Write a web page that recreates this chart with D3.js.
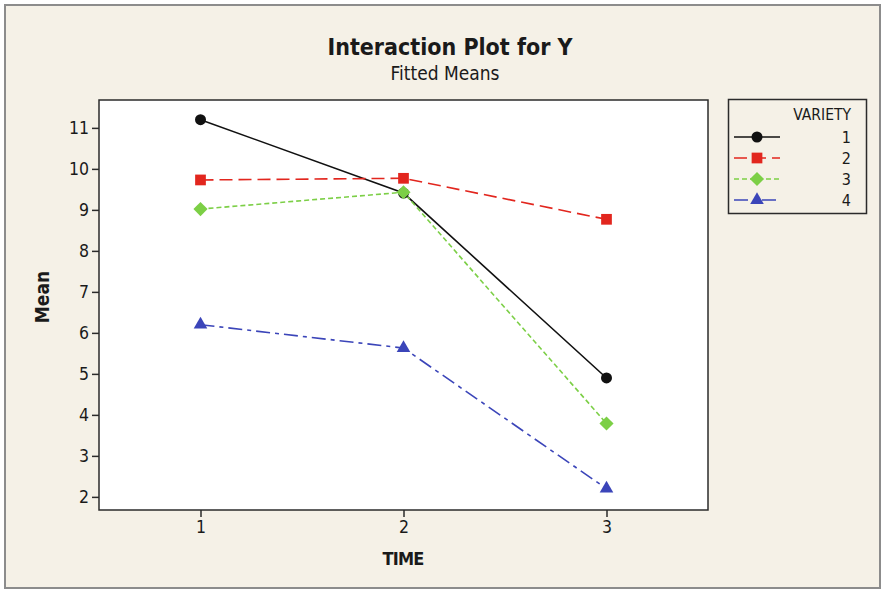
<!DOCTYPE html>
<html>
<head>
<meta charset="utf-8">
<script src="https://cdn.jsdelivr.net/npm/d3@7"></script>
<style>
  html, body { margin: 0; padding: 0; background: #ffffff; }
  svg { display: block; }
  text { font-family: "DejaVu Sans Condensed", "DejaVu Sans", sans-serif; fill: #1a1a1a; }
</style>
</head>
<body>
<script>
// Fitted means of Y by TIME for each VARIETY
const times = [1, 2, 3];
const varieties = ["1", "2", "3", "4"];
const variety1 = [11.2, 9.41, 4.9];
const variety2 = [9.73, 9.77, 8.77];
const variety3 = [9.02, 9.43, 3.79];
const variety4 = [6.2, 5.63, 2.2];
const yTicks = [2, 3, 4, 5, 6, 7, 8, 9, 10, 11];

const seriesValues = [variety1, variety2, variety3, variety4];
const colors = ["#111111", "#e2261e", "#7ccf46", "#3b45b9"];
const dashes = [null, "13,6", "5,3", "14,5,4,5"];

// square diamond (equal width and height)
const symbolSquareDiamond = {
  draw(context, size) {
    const r = Math.sqrt(size / 2);
    context.moveTo(0, -r);
    context.lineTo(r, 0);
    context.lineTo(0, r);
    context.lineTo(-r, 0);
    context.closePath();
  }
};
const symbols = [d3.symbolCircle, d3.symbolSquare, symbolSquareDiamond, d3.symbolTriangle];
const symbolSizes = [95, 115, 100, 80];

const W = 882, H = 591;
const plot = { left: 99, top: 100, right: 708, bottom: 510 };

const svg = d3.select("body").append("svg").attr("width", W).attr("height", H);

// outer panel
svg.append("rect").attr("x", 0).attr("y", 0).attr("width", W).attr("height", H).attr("fill", "#ffffff");
svg.append("rect")
  .attr("x", 5).attr("y", 5).attr("width", 875).attr("height", 583)
  .attr("fill", "#f5f1e7").attr("stroke", "#8c8c8c").attr("stroke-width", 2);

const x = d3.scaleLinear().domain([0.5, 3.5]).range([plot.left, plot.right]);
const y = d3.scaleLinear().domain([1.68, 11.68]).range([plot.bottom, plot.top]);

// plot area
svg.append("rect")
  .attr("x", plot.left).attr("y", plot.top)
  .attr("width", plot.right - plot.left).attr("height", plot.bottom - plot.top)
  .attr("fill", "#ffffff").attr("stroke", "#2b2b2b").attr("stroke-width", 1.5);

// axes
const yAxis = svg.append("g")
  .attr("transform", `translate(${plot.left},0)`)
  .call(d3.axisLeft(y).tickValues(yTicks).tickSize(7).tickPadding(3).tickFormat(d3.format("d")));
const xAxis = svg.append("g")
  .attr("transform", `translate(0,${plot.bottom})`)
  .call(d3.axisBottom(x).tickValues(times).tickSize(7).tickPadding(4).tickFormat(d3.format("d")));
[yAxis, xAxis].forEach(g => {
  g.select(".domain").remove();
  g.selectAll(".tick line").attr("stroke", "#2b2b2b").attr("stroke-width", 1.5);
  g.selectAll(".tick text").attr("font-size", 17.5)
    .attr("font-family", "'DejaVu Sans Condensed', 'DejaVu Sans', sans-serif").attr("fill", "#1a1a1a");
});

// series lines and markers
const line = d3.line().x((d, i) => x(times[i])).y(d => y(d));
seriesValues.forEach((vals, s) => {
  svg.append("path")
    .attr("d", line(vals))
    .attr("fill", "none")
    .attr("stroke", colors[s])
    .attr("stroke-width", 1.6)
    .attr("stroke-dasharray", dashes[s]);
});
seriesValues.forEach((vals, s) => {
  svg.append("g").selectAll("path")
    .data(vals)
    .join("path")
    .attr("transform", (d, i) => `translate(${x(times[i])},${y(d)})`)
    .attr("d", d3.symbol().type(symbols[s]).size(symbolSizes[s]))
    .attr("fill", colors[s]);
});

// titles
svg.append("text").attr("x", 450).attr("y", 55).attr("text-anchor", "middle")
  .attr("font-size", 23).attr("font-weight", "bold").text("Interaction Plot for Y");
svg.append("text").attr("x", 445).attr("y", 80).attr("text-anchor", "middle")
  .attr("font-size", 19).text("Fitted Means");
svg.append("text").attr("x", 403).attr("y", 565).attr("text-anchor", "middle")
  .attr("font-size", 18).attr("font-weight", "bold").attr("letter-spacing", -0.8).text("TIME");
svg.append("text").attr("transform", "translate(49,297) rotate(-90)").attr("text-anchor", "middle")
  .attr("font-size", 19).attr("font-weight", "bold").text("Mean");

// legend
const lg = svg.append("g");
lg.append("rect").attr("x", 728.5).attr("y", 99.5).attr("width", 138).attr("height", 114)
  .attr("fill", "none").attr("stroke", "#2b2b2b").attr("stroke-width", 1.5);
lg.append("text").attr("x", 851).attr("y", 120).attr("text-anchor", "end")
  .attr("font-size", 15.5).text("VARIETY");
varieties.forEach((v, s) => {
  const ly = 137 + s * 21;
  lg.append("line").attr("x1", 734).attr("x2", 780).attr("y1", ly).attr("y2", ly)
    .attr("stroke", colors[s]).attr("stroke-width", 1.6).attr("stroke-dasharray", dashes[s]);
  lg.append("path").attr("transform", `translate(757,${ly})`)
    .attr("d", d3.symbol().type(symbols[s]).size(symbolSizes[s])).attr("fill", colors[s]);
  lg.append("text").attr("x", 851).attr("y", ly + 6).attr("text-anchor", "end")
    .attr("font-size", 16).text(v);
});
</script>
</body>
</html>
